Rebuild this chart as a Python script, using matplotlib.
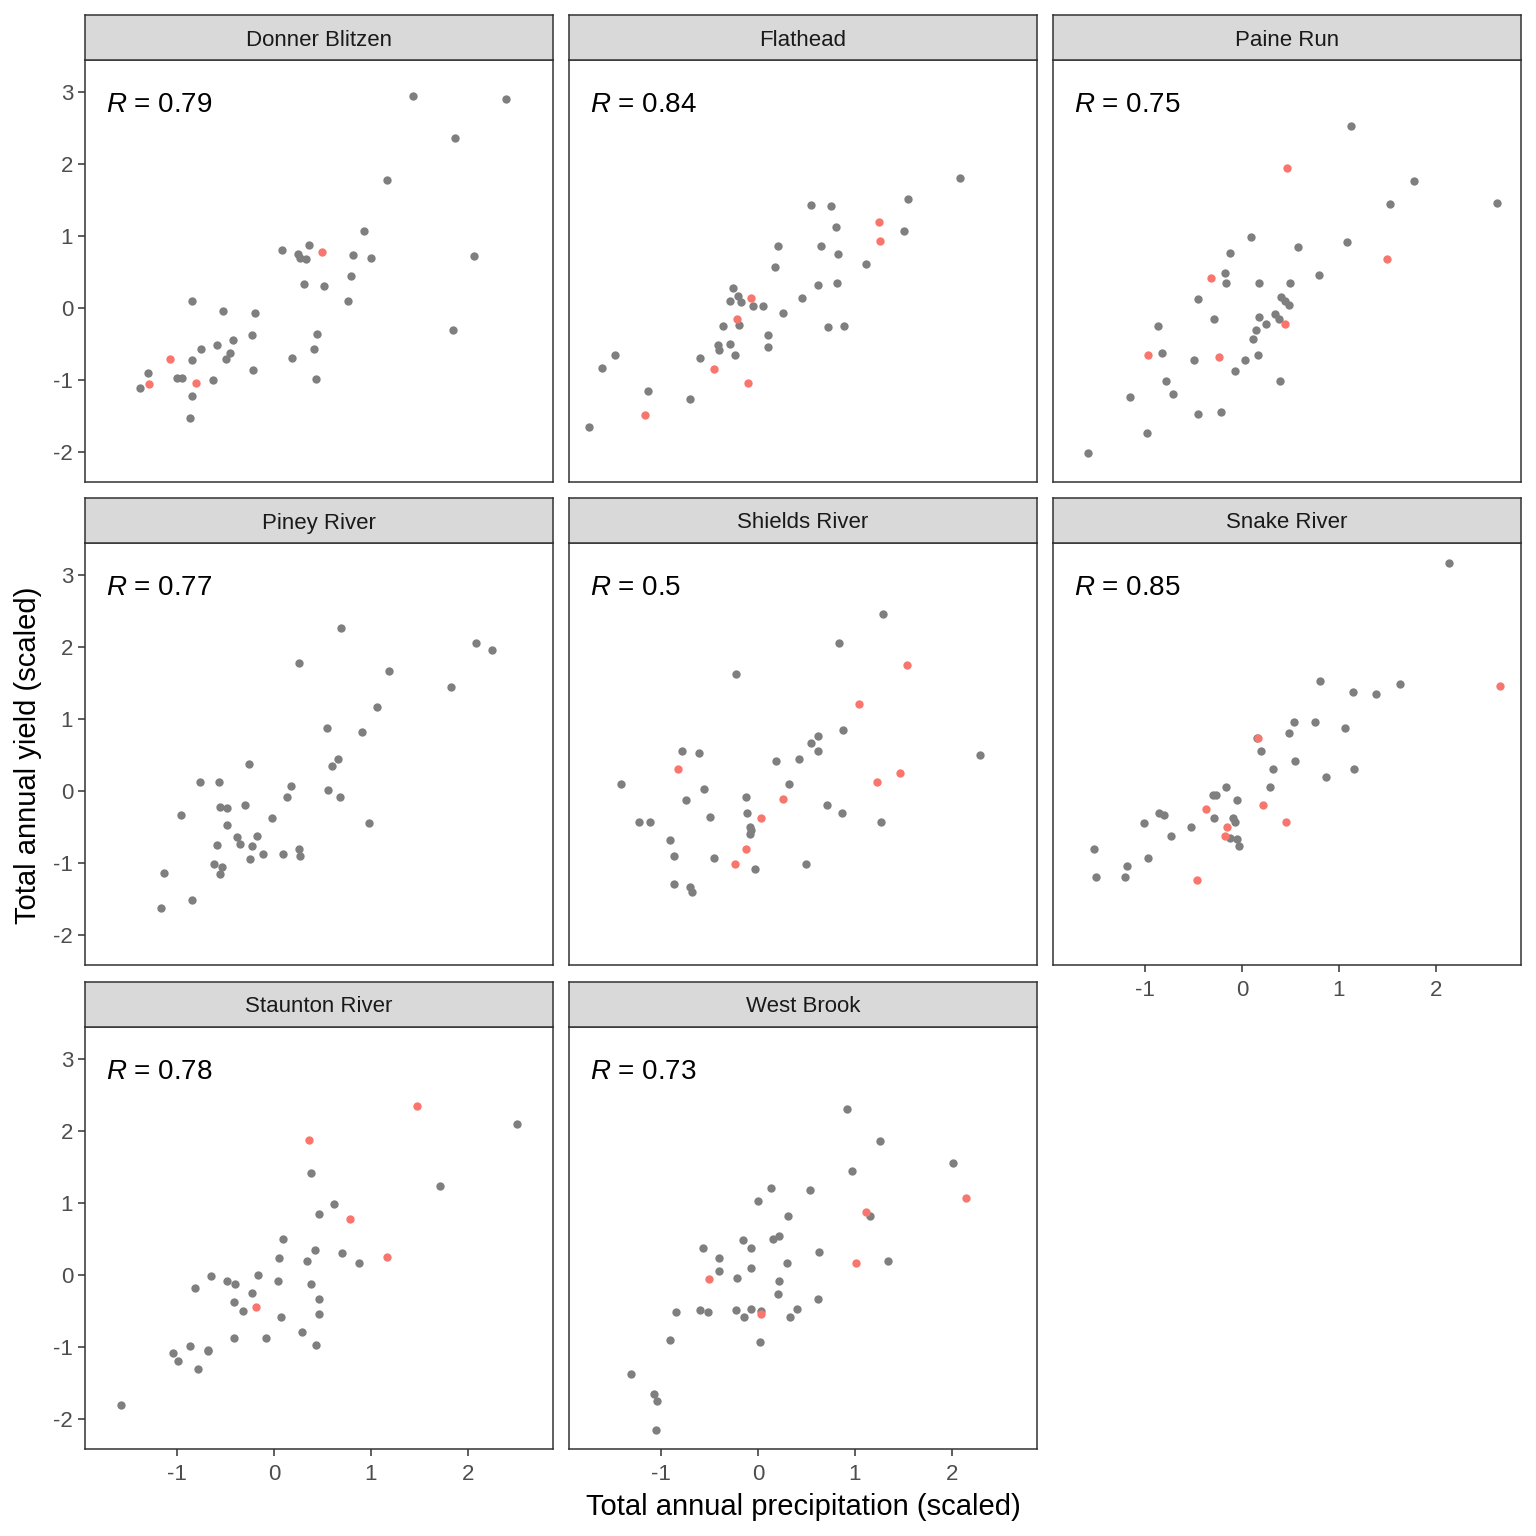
import matplotlib.pyplot as plt

# ----------------
# Data
# ----------------
sites = ["Donner Blitzen", "Flathead", "Paine Run", "Piney River",
         "Shields River", "Snake River", "Staunton River", "West Brook"]
r_values = ["0.79", "0.84", "0.75", "0.77", "0.5", "0.85", "0.78", "0.73"]

# Donner Blitzen
db_x = [1.43, 2.39, 1.87, 1.16, 0.93, 0.08, 0.36, 0.25, 0.27, 0.33, 0.81, 1.00, 2.06, 0.79,
        0.31, 0.52, 0.76, -0.84, -0.53, -0.20, -0.23, 0.44, -0.42, -0.59, -0.75, -0.45,
        -0.49, -0.84, 0.41, 0.19, -0.22, 0.43, -1.30, -1.00, -0.95, -0.63, -1.38, -0.85,
        -0.87, 1.85]
db_y = [2.94, 2.90, 2.36, 1.78, 1.07, 0.81, 0.87, 0.75, 0.70, 0.68, 0.74, 0.69, 0.72, 0.44,
        0.33, 0.31, 0.10, 0.10, -0.04, -0.07, -0.38, -0.36, -0.44, -0.52, -0.57, -0.62,
        -0.71, -0.72, -0.57, -0.70, -0.86, -0.99, -0.91, -0.97, -0.97, -1.00, -1.11, -1.22,
        -1.53, -0.31]
db_red_x = [0.49, -1.07, -1.29, -0.80]
db_red_y = [0.78, -0.71, -1.05, -1.04]

# Flathead
fh_x = [2.08, 1.55, 0.55, 0.75, 0.80, 1.51, 0.21, 0.65, 0.82, 0.18, 1.11, 0.62, 0.81, -0.26,
        -0.21, -0.29, -0.17, -0.05, 0.05, 0.45, 0.26, -0.20, -0.36, 0.10, 0.72, 0.89, -0.41,
        -0.40, -0.29, 0.10, -0.24, -0.60, -1.47, -1.61, -1.13, -0.70, -1.74]
fh_y = [1.81, 1.51, 1.43, 1.42, 1.13, 1.07, 0.86, 0.86, 0.75, 0.57, 0.61, 0.32, 0.35, 0.28,
        0.17, 0.10, 0.08, 0.03, 0.03, 0.14, -0.07, -0.23, -0.25, -0.38, -0.27, -0.25, -0.52,
        -0.59, -0.50, -0.54, -0.66, -0.69, -0.66, -0.83, -1.16, -1.26, -1.66]
fh_red_x = [1.25, 1.26, -0.07, -0.22, -0.45, -0.10, -1.16]
fh_red_y = [1.19, 0.93, 0.14, -0.15, -0.85, -1.04, -1.48]

# Paine Run
pr_x = [1.12, 1.77, 1.53, 2.63, 1.08, 0.09, 0.58, -0.12, 0.79, -0.18, -0.16, 0.18, 0.49,
        -0.45, 0.40, 0.44, 0.48, -0.29, 0.18, 0.34, 0.38, 0.25, 0.14, 0.11, -0.87, -0.82,
        -0.49, 0.17, 0.03, -0.07, 0.39, -0.78, -0.71, -1.15, -0.45, -0.22, -0.98, -1.59]
pr_y = [2.53, 1.77, 1.44, 1.46, 0.92, 0.99, 0.84, 0.77, 0.46, 0.49, 0.34, 0.34, 0.35, 0.12,
        0.15, 0.10, 0.04, -0.16, -0.12, -0.09, -0.16, -0.22, -0.31, -0.43, -0.25, -0.63,
        -0.72, -0.66, -0.72, -0.87, -1.01, -1.01, -1.20, -1.23, -1.47, -1.44, -1.73, -2.01]
pr_red_x = [0.46, 1.49, -0.32, 0.44, -0.97, -0.24]
pr_red_y = [1.94, 0.68, 0.42, -0.22, -0.65, -0.68]

# Piney River
pn_x = [0.69, 2.08, 2.25, 0.26, 1.19, 1.82, 1.06, 0.55, 0.91, 0.66, 0.60, -0.26, -0.76,
        -0.57, 0.18, 0.56, 0.68, 0.13, -0.56, -0.48, -0.30, -0.96, -0.02, 0.98, -0.48, -0.38,
        -0.35, -0.18, -0.23, -0.59, -0.11, 0.09, 0.26, 0.27, -0.25, -0.62, -0.54, -0.56,
        -1.13, -0.84, -1.16]
pn_y = [2.26, 2.05, 1.96, 1.78, 1.66, 1.44, 1.16, 0.88, 0.82, 0.45, 0.35, 0.38, 0.13, 0.13,
        0.07, 0.02, -0.08, -0.08, -0.22, -0.24, -0.20, -0.33, -0.38, -0.44, -0.47, -0.64,
        -0.73, -0.63, -0.77, -0.75, -0.87, -0.88, -0.80, -0.90, -0.95, -1.02, -1.06, -1.15,
        -1.14, -1.51, -1.62]
pn_red_x = []
pn_red_y = []

# Shields River
sh_x = [1.29, 0.84, -0.23, 0.88, 0.62, 0.55, 0.62, 0.42, 0.19, -0.78, -0.61, 2.29, 0.32,
        -1.41, -0.56, -0.74, -0.12, 0.71, 0.87, -0.11, -0.49, 1.27, -1.23, -1.11, -0.08,
        -0.07, -0.08, -0.91, -0.87, -0.45, 0.50, -0.03, -0.87, -0.70, -0.68]
sh_y = [2.46, 2.05, 1.62, 0.85, 0.77, 0.66, 0.56, 0.45, 0.41, 0.55, 0.53, 0.50, 0.10, 0.09,
        0.03, -0.13, -0.08, -0.20, -0.30, -0.31, -0.36, -0.43, -0.43, -0.43, -0.50, -0.54,
        -0.60, -0.68, -0.90, -0.93, -1.02, -1.09, -1.29, -1.33, -1.41]
sh_red_x = [1.54, 1.04, -0.82, 1.46, 1.23, 0.26, 0.03, -0.12, -0.24]
sh_red_y = [1.75, 1.21, 0.31, 0.25, 0.13, -0.11, -0.38, -0.80, -1.02]

# Snake River
sn_x = [2.13, 0.80, 1.63, 1.14, 1.38, 0.54, 0.75, 1.06, 0.48, 0.15, 0.20, 0.55, 0.32, 1.15,
        0.87, 0.29, -0.16, -0.30, -0.27, -0.05, -0.86, -0.80, -0.29, -0.09, -0.07, -1.01,
        -0.53, -0.73, -0.12, -0.05, -0.03, -1.53, -0.97, -1.19, -1.50, -1.21]
sn_y = [3.17, 1.53, 1.49, 1.37, 1.35, 0.96, 0.96, 0.88, 0.80, 0.73, 0.56, 0.41, 0.30, 0.30,
        0.20, 0.05, 0.05, -0.05, -0.06, -0.12, -0.30, -0.33, -0.37, -0.38, -0.43, -0.45,
        -0.50, -0.62, -0.66, -0.67, -0.76, -0.81, -0.93, -1.04, -1.20, -1.20]
sn_red_x = [2.66, 0.16, -0.37, 0.22, 0.45, -0.15, -0.18, -0.46]
sn_red_y = [1.46, 0.74, -0.25, -0.20, -0.43, -0.50, -0.63, -1.23]

# Staunton River
st_x = [2.51, 0.38, 1.71, 0.62, 0.46, 0.09, 0.42, 0.70, 0.05, 0.34, 0.88, -0.16, -0.65,
        -0.48, -0.40, 0.04, 0.38, -0.81, -0.23, 0.46, -0.41, -0.32, 0.46, 0.07, 0.29, -0.41,
        -0.08, 0.43, -0.87, -0.68, -0.68, -1.04, -0.99, -0.78, -1.58]
st_y = [2.10, 1.42, 1.24, 0.99, 0.85, 0.50, 0.35, 0.31, 0.23, 0.19, 0.16, 0.00, -0.02,
        -0.08, -0.13, -0.09, -0.12, -0.18, -0.25, -0.33, -0.37, -0.50, -0.54, -0.59, -0.79,
        -0.87, -0.87, -0.97, -0.98, -1.04, -1.06, -1.08, -1.19, -1.31, -1.81]
st_red_x = [1.47, 0.36, 0.78, 1.16, -0.19]
st_red_y = [2.35, 1.88, 0.78, 0.25, -0.45]

# West Brook
wb_x = [0.92, 1.26, 2.01, 0.97, 0.13, 0.54, 0.00, 0.31, 1.15, 0.15, 0.22, -0.15, -0.07,
        -0.57, 0.63, -0.40, 1.34, 0.30, -0.07, -0.40, -0.22, 0.22, 0.21, 0.62, -0.84, -0.60,
        -0.52, -0.23, -0.07, 0.03, -0.14, 0.40, 0.33, 0.02, -0.91, -1.31, -1.07, -1.04, -1.05]
wb_y = [2.30, 1.86, 1.56, 1.45, 1.21, 1.18, 1.03, 0.82, 0.82, 0.50, 0.54, 0.48, 0.38, 0.38,
        0.32, 0.23, 0.20, 0.16, 0.10, 0.06, -0.04, -0.09, -0.26, -0.33, -0.51, -0.48, -0.51,
        -0.48, -0.47, -0.50, -0.58, -0.47, -0.58, -0.93, -0.90, -1.38, -1.66, -1.75, -2.16]
wb_red_x = [2.14, 1.11, 1.01, -0.51, 0.03]
wb_red_y = [1.07, 0.87, 0.16, -0.06, -0.54]

gray_x = [db_x, fh_x, pr_x, pn_x, sh_x, sn_x, st_x, wb_x]
gray_y = [db_y, fh_y, pr_y, pn_y, sh_y, sn_y, st_y, wb_y]
red_x = [db_red_x, fh_red_x, pr_red_x, pn_red_x, sh_red_x, sn_red_x, st_red_x, wb_red_x]
red_y = [db_red_y, fh_red_y, pr_red_y, pn_red_y, sh_red_y, sn_red_y, st_red_y, wb_red_y]

x_ticks = [-1, 0, 1, 2]
y_ticks = [-2, -1, 0, 1, 2, 3]

# ----------------
# Layout (pixel geometry of the ggplot facet grid)
# ----------------
W = H = 1536
col_left = [85, 569, 1053]
row_top = [60, 543, 1027]
panel_w, panel_h, strip_h = 468, 422, 45
edge = "#333333"

plt.rcParams["font.family"] = ["Liberation Sans", "DejaVu Sans"]
plt.rcParams["axes.unicode_minus"] = False
plt.rcParams["mathtext.fontset"] = "custom"
plt.rcParams["mathtext.it"] = "Liberation Sans:italic"
plt.rcParams["mathtext.rm"] = "Liberation Sans"

fig = plt.figure(figsize=(W / 100, H / 100), dpi=100)

for i, site in enumerate(sites):
    r, c = divmod(i, 3)
    x0 = col_left[c] / W
    y0 = 1 - (row_top[r] + panel_h) / H
    ax = fig.add_axes([x0, y0, panel_w / W, panel_h / H])

    ax.scatter(gray_x[i], gray_y[i], s=36, color="#7F7F7F", linewidths=0, zorder=3)
    ax.scatter(red_x[i], red_y[i], s=36, color="#F8766D", linewidths=0, zorder=3)

    ax.set_xlim(-1.948, 2.876)
    ax.set_ylim(-2.417, 3.444)
    ax.set_xticks(x_ticks)
    ax.set_yticks(y_ticks)
    ax.tick_params(length=5, width=1.1, color=edge, labelcolor="#4D4D4D",
                   labelsize=16, pad=3.5)
    ax.tick_params(axis="x", pad=6)
    for sp in ax.spines.values():
        sp.set_color(edge)
        sp.set_linewidth(1.1)

    show_y = c == 0
    show_x = (r == 2) or (r == 1 and c == 2)
    if not show_y:
        ax.tick_params(axis="y", left=False, labelleft=False)
    if not show_x:
        ax.tick_params(axis="x", bottom=False, labelbottom=False)

    ax.text(21 / panel_w, 1 - 52 / panel_h, "$R$ = " + r_values[i], transform=ax.transAxes,
            ha="left", va="baseline", fontsize=20, color="black")

    # strip
    sax = fig.add_axes([x0, 1 - row_top[r] / H, panel_w / W, strip_h / H])
    sax.set_facecolor("#D9D9D9")
    sax.set_xticks([])
    sax.set_yticks([])
    for sp in sax.spines.values():
        sp.set_color(edge)
        sp.set_linewidth(1.1)
    sax.text(0.5, 0.5, site, transform=sax.transAxes, ha="center", va="center_baseline",
             fontsize=16, color="#1A1A1A")

fig.text(803 / W, 1 - 1507 / H, "Total annual precipitation (scaled)",
         ha="center", va="center", fontsize=21)
fig.text(28 / W, 1 - 755 / H, "Total annual yield (scaled)",
         ha="center", va="center", rotation=90, fontsize=21)

fig.savefig("out.png", dpi=100, facecolor="white")
